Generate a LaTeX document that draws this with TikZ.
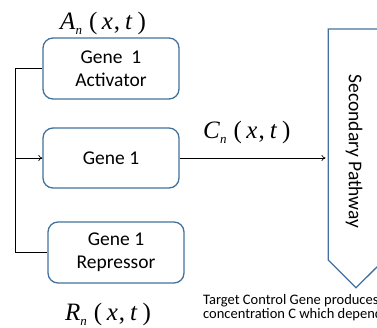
\documentclass[tikz,border=0pt]{standalone}
\usepackage{fontspec}
\setmainfont{Carlito}
\newfontfamily\tnr{Liberation Serif}
\usetikzlibrary{arrows.meta}
\definecolor{boxblue}{RGB}{65,113,156}
\newcommand{\funclbl}[1]{{\tnr\fontsize{25}{26}\selectfont\textit{#1}\raisebox{-5pt}{\fontsize{13}{13}\selectfont\textit{n}}\hspace{7pt}(\hspace{4.5pt}\textit{x}\hspace{1pt},\hspace{5pt}\textit{t}\hspace{5pt})}}
\begin{document}
\begin{tikzpicture}[x=1pt,y=-1pt,
  genebox/.style={draw=boxblue,line width=1.3pt,rounded corners=10pt,minimum width=136pt,minimum height=61pt,align=center,font=\fontsize{19.5}{23}\selectfont,inner sep=0pt},
  wire/.style={black,line width=0.7pt},
  arr/.style={wire,-{To[length=4pt,width=6pt]}}]
\useasboundingbox (0,0) rectangle (377,327);
\clip (0,0) rectangle (377,327);
\node[genebox] (act) at (111,68.5) {Gene\ \ 1\\Activator};
\node[genebox,minimum height=60pt] (gene) at (111,158) {Gene 1};
\node[genebox] (rep) at (116,252.5) {Gene 1\\Repressor};
\coordinate (topc) at (15,68.5);
\coordinate (midc) at (15,158);
\coordinate (botc) at (15,252.5);
\draw[wire] (act.west) -- (topc) -- (botc) -- (rep.west);
\draw[arr] (midc) -- (gene.west);
% pathway pentagon
\coordinate (pwin) at (325.5,158);
\draw[boxblue,line width=1.3pt] (384,29) -- (328.3,29) -- (328.3,260) -- (356,287.7) -- (384,260) -- cycle;
\node[rotate=-90,font=\fontsize{19.5}{23}\selectfont] (pwtext) at (354,151.5) {Secondary Pathway};
\draw[arr] (gene.east) -- (pwin);
% labels
\node[anchor=base west,inner sep=0pt] (alab) at (60,29) {\funclbl{A}};
\node[anchor=base west,inner sep=0pt] (clab) at (203,138) {\funclbl{C}};
\node[anchor=base west,inner sep=0pt] (rlab) at (65,320) {\funclbl{R}};
\node[anchor=base west,inner sep=0pt,align=left,font=\fontsize{14.5}{12}\selectfont] (note) at (203,318.5) {Target Control Gene produces\\concentration C which depends};
\end{tikzpicture}
\end{document}
